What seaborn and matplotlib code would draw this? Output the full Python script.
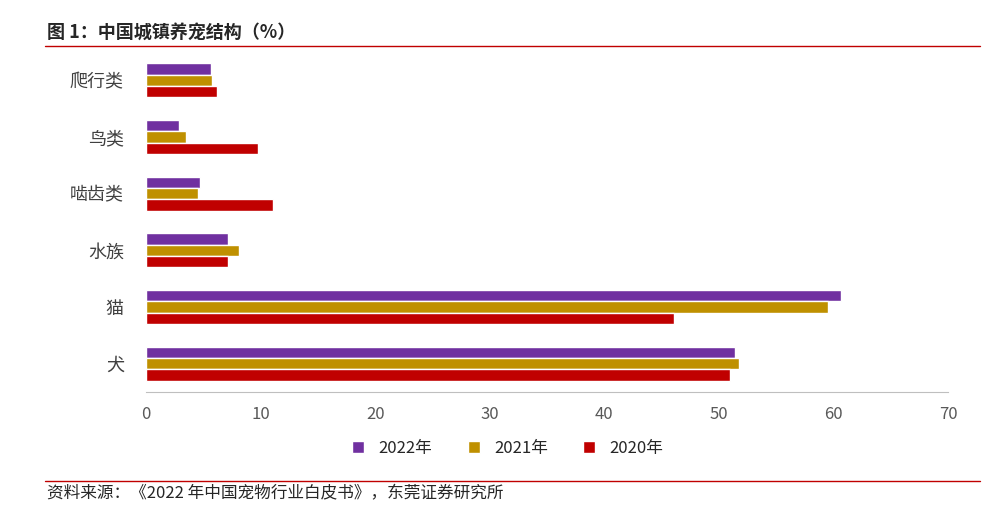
import matplotlib
matplotlib.use("Agg")
import matplotlib.pyplot as plt
import seaborn as sns
import pandas as pd
from matplotlib.lines import Line2D

categories = ["爬行类", "鸟类", "啮齿类", "水族", "猫", "犬"]
years = ["2022年", "2021年", "2020年"]
v2022 = [5.7, 2.9, 4.7, 7.2, 60.7, 51.4]
v2021 = [5.8, 3.5, 4.5, 8.1, 59.5, 51.8]
v2020 = [6.2, 9.8, 11.1, 7.2, 46.1, 51.0]
colors = ["#7030A0", "#BF9000", "#C00000"]

rows = []
for y, vals in zip(years, [v2022, v2021, v2020]):
    for c, v in zip(categories, vals):
        rows.append({"cat": c, "year": y, "val": v})
df = pd.DataFrame(rows)

sns.set_style("white")
plt.rcParams['font.family'] = ['Noto Sans CJK SC', 'DejaVu Sans']

fig = plt.figure(figsize=(10.05, 5.17), dpi=100)
ax = fig.add_axes([146/1005, 1-392/517, (948-146)/1005, (392-52)/517])
sns.barplot(data=df, y="cat", x="val", hue="year", order=categories, hue_order=years,
            palette=colors, orient="h", width=0.6, ax=ax, legend=False, saturation=1)
ax.set_xlim(0, 70)
ax.set_xticks(range(0, 71, 10))
ax.set_xlabel(""); ax.set_ylabel("")
for s in ["top", "right", "left"]:
    ax.spines[s].set_visible(False)
ax.spines["bottom"].set_color("#BFBFBF")
ax.tick_params(axis="x", colors="#595959", labelsize=12, length=0, pad=10)
ax.tick_params(axis="y", labelsize=13, colors="#404040", length=0, pad=16)

handles = [Line2D([0], [0], marker="s", color="w", markerfacecolor=c, markersize=8) for c in colors]
fig.legend(handles, years, loc="center", bbox_to_anchor=(0.5, 1-448/517), ncol=3,
           frameon=False, fontsize=12, handletextpad=0.2, columnspacing=1.5)

fig.text(47/1005, 1-32/517, "图 1：中国城镇养宠结构（%）", fontsize=13, fontweight="bold", va="center")
fig.add_artist(Line2D([45/1005, 980/1005], [1-46/517, 1-46/517], color="#C00000", lw=1))
fig.add_artist(Line2D([45/1005, 980/1005], [1-481/517, 1-481/517], color="#C00000", lw=1))
fig.text(47/1005, 1-494/517, "资料来源：《2022 年中国宠物行业白皮书》，东莞证券研究所", fontsize=12, va="center")

fig.savefig("out.png", dpi=100)
